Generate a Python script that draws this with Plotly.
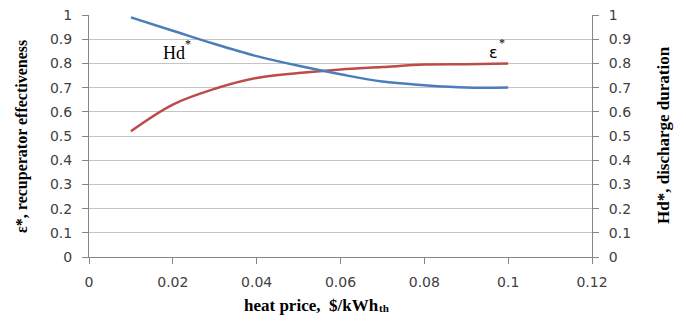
import plotly.graph_objects as go

heat_price = [0.01, 0.02, 0.03, 0.04, 0.05, 0.06, 0.07, 0.08, 0.09, 0.10]
hd_star = [0.99, 0.935, 0.88, 0.83, 0.79, 0.755, 0.725, 0.71, 0.70, 0.70]
eps_star = [0.52, 0.63, 0.695, 0.74, 0.76, 0.775, 0.785, 0.795, 0.797, 0.80]

x_ticks = [0, 0.02, 0.04, 0.06, 0.08, 0.1, 0.12]
x_ticklabels = ["0", "0.02", "0.04", "0.06", "0.08", "0.1", "0.12"]
y_ticks = [0, 0.1, 0.2, 0.3, 0.4, 0.5, 0.6, 0.7, 0.8, 0.9, 1]
y_ticklabels = ["0", "0.1", "0.2", "0.3", "0.4", "0.5", "0.6", "0.7", "0.8", "0.9", "1"]

BLUE = "#4A7EBB"
RED = "#BE4B48"
AX = "#868686"
GRID = "#C4C4C4"
TICKFONT = dict(family="DejaVu Sans", size=14, color="#404040")
SERIF = "Liberation Serif"

# plot area in page pixels (page body has an 8px default margin)
PX_L, PX_R, PX_T, PX_B = 89, 592, 15, 257
PW, PH = PX_R - PX_L, PX_B - PX_T


def px(xp):
    return (xp - PX_L) / PW


def py(yp):
    return (PX_B - yp) / PH


fig = go.Figure()
fig.add_trace(go.Scatter(x=heat_price, y=eps_star, mode="lines", line=dict(color=RED, width=2.5, shape="spline"),
                         name="ε*", showlegend=False, yaxis="y"))
fig.add_trace(go.Scatter(x=heat_price, y=hd_star, mode="lines", line=dict(color=BLUE, width=2.5, shape="spline"),
                         name="Hd*", showlegend=False, yaxis="y2"))

axis_common = dict(range=None, showline=True, linecolor=AX, linewidth=1, ticks="outside", ticklen=6,
                   tickcolor=AX, tickfont=TICKFONT, ticklabelstandoff=7, zeroline=False,
                   automargin=False, ticklabeloverflow="allow")

fig.update_layout(
    width=686, height=324,
    margin=dict(l=PX_L - 8, r=686 - PW - (PX_L - 8), t=PX_T - 8, b=324 - PH - (PX_T - 8), autoexpand=False),
    paper_bgcolor="white", plot_bgcolor="white",
    xaxis={**axis_common, "range": [0, 0.12], "tickvals": x_ticks, "ticktext": x_ticklabels, "showgrid": False,
           "ticklabelstandoff": 6},
    yaxis={**axis_common, "range": [0, 1], "tickvals": y_ticks, "ticktext": y_ticklabels, "showgrid": True,
           "gridcolor": GRID, "gridwidth": 1.3},
    yaxis2={**axis_common, "range": [0, 1], "tickvals": y_ticks, "ticktext": y_ticklabels, "overlaying": "y",
            "side": "right", "showgrid": False},
    annotations=[
        dict(text="<b>ε*, recuperator effectiveness</b>", xref="paper", yref="paper",
             x=px(22), y=py(137), textangle=-90, showarrow=False,
             font=dict(family=SERIF, size=16, color="black"), xanchor="center", yanchor="middle"),
        dict(text="<b>Hd*, discharge duration</b>", xref="paper", yref="paper",
             x=px(663), y=py(135), textangle=-90, showarrow=False,
             font=dict(family=SERIF, size=17, color="black"), xanchor="center", yanchor="middle"),
        dict(text="<b>heat price,  $/kWh</b>", xref="paper", yref="paper",
             x=px(381), y=py(305), showarrow=False,
             font=dict(family=SERIF, size=17, color="black"), xanchor="right", yanchor="middle"),
        dict(text="<b>th</b>", xref="paper", yref="paper",
             x=px(377), y=py(308), showarrow=False,
             font=dict(family=SERIF, size=11, color="black"), xanchor="left", yanchor="middle"),
        dict(text="Hd", xref="paper", yref="paper", x=px(187), y=py(53), showarrow=False,
             font=dict(family=SERIF, size=18, color="black"), xanchor="right", yanchor="middle"),
        dict(text="*", xref="paper", yref="paper", x=px(183), y=py(44), showarrow=False,
             font=dict(family=SERIF, size=12, color="black"), xanchor="left", yanchor="middle"),
        dict(text="ε", xref="paper", yref="paper", x=px(500), y=py(52), showarrow=False,
             font=dict(family="DejaVu Sans", size=16, color="black"), xanchor="right", yanchor="middle"),
        dict(text="*", xref="paper", yref="paper", x=px(497), y=py(43), showarrow=False,
             font=dict(family=SERIF, size=12, color="black"), xanchor="left", yanchor="middle"),
    ],
)

fig.write_html("out.html")
